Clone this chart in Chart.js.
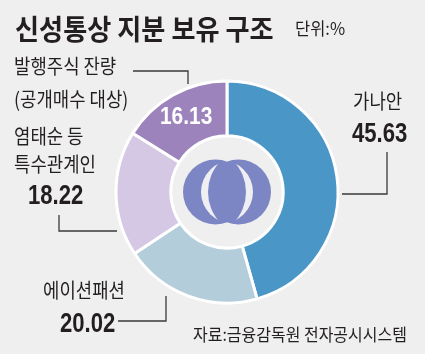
<!DOCTYPE html>
<html><head><meta charset="utf-8">
<script src="https://cdn.jsdelivr.net/npm/chart.js@4"></script>
<style>
html,body{margin:0;padding:0;background:#efefef;}
#wrap{position:relative;width:425px;height:354px;overflow:hidden;background:#efefef;font-family:"Noto Sans CJK KR","Noto Sans",sans-serif;color:#231f20;}
canvas{position:absolute;left:0;top:0;}
.t{position:absolute;white-space:nowrap;line-height:1;transform-origin:0 0;}
.num{font-family:"Liberation Sans",Arial,sans-serif;font-weight:bold;}
</style></head><body><div id="wrap"><canvas id="c" width="425" height="354"></canvas></div>
<script>
// ---- data ----
const categories = ['가나안', '에이션패션', '염태순 등 특수관계인', '발행주식 잔량 (공개매수 대상)'];
const labelLines = [['가나안'], ['에이션패션'], ['염태순 등', '특수관계인'], ['발행주식 잔량', '(공개매수 대상)']];
const values = [45.63, 20.02, 18.22, 16.13];
const colors = ['#4a96c7', '#b3cdda', '#d5c8e5', '#9c83bc'];
const titleText = '신성통상 지분 보유 구조';
const unitText = '단위:%';
const sourceText = '자료:금융감독원 전자공시시스템';

// ---- layout (styles only) ----
const labelLayout = [
  {x: 353, y: 91, nx: 352, ny: 119, numColor: '#231f20', numSize: 28, numScale: 0.79},
  {x: 43, y: 280, nx: 60, ny: 309, numColor: '#231f20', numSize: 28, numScale: 0.79},
  {x: 14, y: 126, lineGap: 28, nx: 28, ny: 181, numColor: '#231f20', numSize: 28, numScale: 0.79},
  {x: 14, y: 56, lineGap: 33, nx: 160, ny: 104, numColor: '#ffffff', numSize: 24, numScale: 0.87}
];
const leaders = [
  [[387,152],[387,194],[342,194]],
  [[118,321],[166,321],[166,296]],
  [[59,215],[59,231],[117,231]],
  [[133,71],[188,71],[188,84]]
];

const wrap = document.getElementById('wrap');
function addText(txt, x, y, size, opts) {
  const d = document.createElement('div');
  d.className = 't' + (opts.num ? ' num' : '');
  d.textContent = txt;
  d.style.left = x + 'px';
  d.style.top = y + 'px';
  d.style.fontSize = size + 'px';
  if (opts.weight) d.style.fontWeight = opts.weight;
  if (opts.color) d.style.color = opts.color;
  if (opts.scale) d.style.transform = 'scaleX(' + opts.scale + ')';
  wrap.appendChild(d);
}
addText(titleText, 15, 14, 28, {weight: 'bold', scale: 0.935});
addText(unitText, 295, 19, 17, {scale: 0.97});
addText(sourceText, 193, 325, 17, {scale: 0.94});
labelLines.forEach((lines, i) => {
  const L = labelLayout[i];
  lines.forEach((ln, j) => addText(ln, L.x, L.y + j * (L.lineGap || 0), 20, {scale: 0.89}));
  addText(values[i].toFixed(2), L.nx, L.ny, L.numSize, {num: true, color: L.numColor, scale: L.numScale});
});

function crescent(ctx, ox, oR, ix, iR, cy) {
  ctx.save();
  ctx.beginPath(); ctx.arc(ox, cy, oR, 0, Math.PI * 2); ctx.clip();
  ctx.beginPath();
  ctx.rect(0, 0, 425, 354);
  ctx.arc(ix, cy, iR, 0, Math.PI * 2);
  ctx.fill('evenodd');
  ctx.restore();
}

const deco = {
  id: 'deco',
  afterDraw(chart) {
    const ctx = chart.ctx;
    const arc = chart.getDatasetMeta(0).data[0];
    const cx = arc.x, cy = arc.y;
    // logo: two interlocking circles
    const r = 32.5, ax = cx - 11.5, bx = cx + 11.5;
    ctx.save();
    ctx.fillStyle = '#7d86c4';
    ctx.beginPath(); ctx.arc(ax, cy, r, 0, Math.PI * 2); ctx.fill();
    ctx.beginPath(); ctx.arc(bx, cy, r, 0, Math.PI * 2); ctx.fill();
    ctx.fillStyle = '#eeeef3';
    crescent(ctx, cx + 5.6, 31.6, cx + 25.2, 44.2, cy);   // "("
    crescent(ctx, cx - 5.6, 31.6, cx - 25.2, 44.2, cy);   // ")"
    // leader lines
    ctx.strokeStyle = '#3a3a3a';
    ctx.lineWidth = 1.3;
    leaders.forEach(pts => {
      ctx.beginPath();
      pts.forEach((p, k) => k ? ctx.lineTo(p[0], p[1]) : ctx.moveTo(p[0], p[1]));
      ctx.stroke();
    });
    ctx.restore();
  }
};

new Chart(document.getElementById('c'), {
  type: 'doughnut',
  data: {
    labels: categories,
    datasets: [{data: values, backgroundColor: colors, borderColor: '#ffffff', borderWidth: 3}]
  },
  options: {
    responsive: false,
    animation: false,
    radius: 111,
    cutout: 60,
    layout: {padding: {left: 107, right: 78, top: 72, bottom: 42}},
    plugins: {legend: {display: false}, tooltip: {enabled: false}}
  },
  plugins: [deco]
});
</script></body></html>
